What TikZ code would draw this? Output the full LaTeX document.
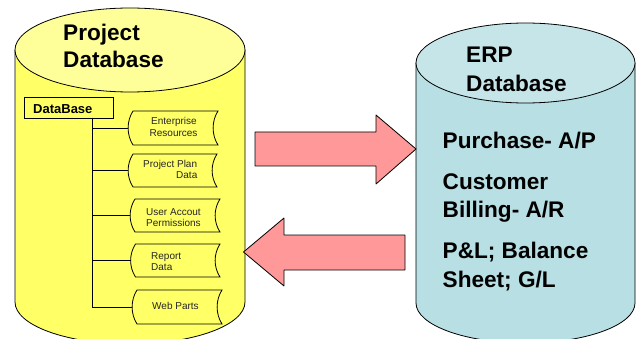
\documentclass[tikz,border=0pt]{standalone}
\usepackage{fontspec}
\setmainfont{Liberation Sans}
\definecolor{yelbody}{HTML}{FFFF66}
\definecolor{yeltop}{HTML}{FFFF99}
\definecolor{blubody}{HTML}{B8DFE3}
\definecolor{blutop}{HTML}{C6E5E8}
\definecolor{arrowpink}{HTML}{FF9999}
\tikzset{
  cyl/.style={draw=black,line width=0.8pt,line join=round},
  bigtxt/.style={anchor=base west,inner sep=0pt,font=\fontsize{22.6}{27}\selectfont\bfseries},
  midtxt/.style={anchor=base west,inner sep=0pt,font=\fontsize{22.6}{27}\selectfont\bfseries},
  smalltxt/.style={anchor=base west,inner sep=0pt,font=\fontsize{10}{12}\selectfont,text=black!85},
  dbbox/.style={draw=black,line width=0.8pt,fill=yelbody,inner sep=0pt},
  wave/.style={draw=black,line width=0.8pt,fill=yelbody},
  branch/.style={draw=black,line width=0.8pt},
  bigarrow/.style={draw=black,line width=0.8pt,fill=arrowpink,line join=round}
}
% name, left, top, right, bottom
\newcommand{\wavebox}[5]{%
  \draw[wave] (#2+5,#3) -- (#4,#3)
    .. controls (#4-6.5,#3+10) and (#4-6.5,#5-10) .. (#4,#5)
    -- (#2+5,#5)
    .. controls (#2-1.5,#5-10) and (#2-1.5,#3+10) .. (#2+5,#3) -- cycle;
  \coordinate (#1) at (#2,{(#3+#5)/2});
}
\begin{document}
\begin{tikzpicture}[x=1pt,y=-1pt]
\useasboundingbox (0,0) rectangle (637,339);
\clip (0,0) rectangle (637,339);

% Project database cylinder
\draw[cyl,fill=yelbody] (15,50) -- (15,302)
  .. controls (15,325.2) and (66.5,344) .. (130,344)
  .. controls (193.5,344) and (245,325.2) .. (245,302) -- (245,50) -- cycle;
\draw[cyl,fill=yeltop] (15,50)
  .. controls (15,26.8) and (66.5,8) .. (130,8)
  .. controls (193.5,8) and (245,26.8) .. (245,50)
  .. controls (245,73.2) and (193.5,92) .. (130,92)
  .. controls (66.5,92) and (15,73.2) .. (15,50) -- cycle;
\node[bigtxt] (ptitle1) at (63,41) {Project};
\node[bigtxt] (ptitle2) at (63,68) {Database};

% ERP database cylinder
\draw[cyl,fill=blubody] (416,63) -- (416,303)
  .. controls (416,325) and (465,343) .. (525.5,343)
  .. controls (586,343) and (635,325) .. (635,303) -- (635,63) -- cycle;
\draw[cyl,fill=blutop] (416,63)
  .. controls (416,41) and (465,23) .. (525.5,23)
  .. controls (586,23) and (635,41) .. (635,63)
  .. controls (635,85) and (586,103) .. (525.5,103)
  .. controls (465,103) and (416,85) .. (416,63) -- cycle;
\node[midtxt] (etitle1) at (466,63) {ERP};
\node[midtxt] (etitle2) at (466,91.5) {Database};
\node[midtxt] (e1) at (442.5,148.5) {Purchase- A/P};
\node[midtxt] (e2) at (442.5,189.5) {Customer};
\node[midtxt] (e3) at (442.5,218) {Billing- A/R};
\node[midtxt] (e4) at (442.5,258.5) {P\&L; Balance};
\node[midtxt] (e5) at (442.5,287) {Sheet; G/L};

% Tree
\node[dbbox,minimum width=89pt,minimum height=21pt] (db) at (68.5,107.5) {};
\node[anchor=base west,inner sep=0pt,font=\fontsize{13}{15}\selectfont\bfseries] (dbt) at (33,114) {DataBase};
\coordinate (trunk) at (92,118);

\wavebox{b1}{128}{111}{218}{145}
\wavebox{b2}{128}{154}{217}{187}
\wavebox{b3}{130}{199}{220}{232}
\wavebox{b4}{130.5}{244}{220}{277}
\wavebox{b5}{132}{290}{222}{324}

\draw[branch] (trunk) |- (b1);
\draw[branch] (trunk) |- (b2);
\draw[branch] (trunk) |- (b3);
\draw[branch] (trunk) |- (b4);
\draw[branch] (trunk) |- (b5);

\node[smalltxt] (t1a) at (151,125) {Enterprise};
\node[smalltxt] (t1b) at (149.5,137) {Resources};
\node[smalltxt] (t2a) at (143,168) {Project Plan};
\node[smalltxt] (t2b) at (176,179) {Data};
\node[smalltxt] (t3a) at (146,215) {User Accout};
\node[smalltxt] (t3b) at (146,226) {Permissions};
\node[smalltxt] (t4a) at (151,259) {Report};
\node[smalltxt] (t4b) at (151,270.5) {Data};
\node[smalltxt] (t5) at (152,309) {Web Parts};

% Arrows
\draw[bigarrow] (255,132) -- (376,132) -- (376,115) -- (416,149) -- (376,184) -- (376,166) -- (255,166) -- cycle;
\draw[bigarrow] (405,235) -- (284,235) -- (284,218) -- (243.5,252) -- (284,286) -- (284,270) -- (405,270) -- cycle;
\end{tikzpicture}
\end{document}
